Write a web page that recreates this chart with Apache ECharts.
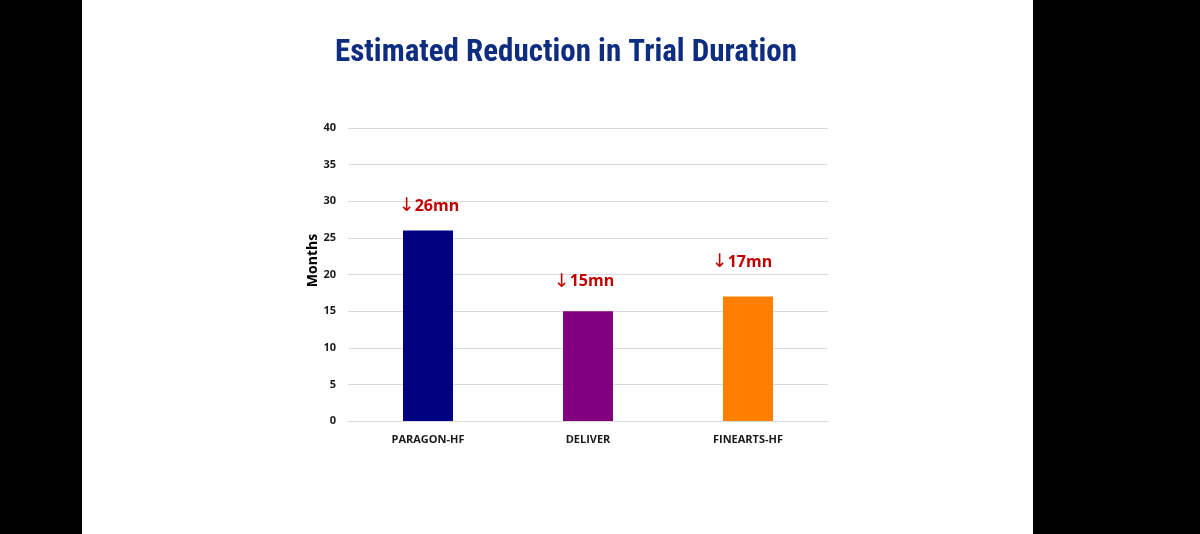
<!DOCTYPE html>
<html>
<head>
<meta charset="utf-8">
<script src="https://cdn.jsdelivr.net/npm/echarts@6/dist/echarts.min.js"></script>
<style>
  html, body { margin: 0; padding: 0; background: #000; }
  #chart {
    width: 1200px;
    height: 534px;
    background: linear-gradient(to right, #000 0, #000 82px, #fff 82px, #fff 1033px, #000 1033px);
  }
</style>
</head>
<body>
<div id="chart"></div>
<script>
// 数据
const trials = ['PARAGON-HF', 'DELIVER', 'FINEARTS-HF'];
const reductionMonths = [26, 15, 17];
const barColors = ['#000080', '#800080', '#ff8000'];
const yTicks = { min: 0, max: 40, interval: 5 };

// label placement above each bar (text boxes sit at slightly different heights)
const labelDistance = [15, 20, 25];
const labelShift = [1, -4, -6];

const chart = echarts.init(document.getElementById('chart'));

const barData = reductionMonths.map((v, i) => ({
  value: v,
  itemStyle: { color: barColors[i] },
  label: {
    distance: labelDistance[i],
    offset: [labelShift[i], 0]
  }
}));

chart.setOption({
  animation: false,
  title: {
    text: 'Estimated Reduction in Trial Duration',
    left: 561,
    top: 33,
    textAlign: 'center',
    textStyle: {
      fontFamily: '"Liberation Sans Narrow", "Roboto Condensed", Arial, sans-serif',
      fontSize: 31,
      fontWeight: 'bold',
      color: '#0f2d80'
    }
  },
  grid: {
    left: 348,
    right: 372,
    top: 128,
    bottom: 113,
    containLabel: false
  },
  xAxis: {
    type: 'category',
    data: trials,
    axisLine: { lineStyle: { color: '#d9d9d9', width: 1 } },
    axisTick: { show: false },
    axisLabel: {
      margin: 13,
      color: '#1a1a1a',
      fontSize: 11,
      fontWeight: 'bold',
      fontFamily: '"Open Sans", sans-serif'
    }
  },
  yAxis: {
    type: 'value',
    min: yTicks.min,
    max: yTicks.max,
    interval: yTicks.interval,
    name: 'Months',
    nameLocation: 'middle',
    nameGap: 28,
    nameRotate: 90,
    nameTextStyle: {
      color: '#000',
      fontSize: 14,
      fontWeight: 'bold',
      fontFamily: '"Open Sans", sans-serif',
      padding: [0, 0, 0, 28]
    },
    axisLine: { show: false },
    axisTick: { show: false },
    axisLabel: {
      margin: 12,
      color: '#1a1a1a',
      fontSize: 11,
      fontWeight: 'bold',
      fontFamily: '"Open Sans", sans-serif'
    },
    splitLine: { lineStyle: { color: '#d9d9d9', width: 1 } }
  },
  series: [{
    type: 'bar',
    data: barData,
    barWidth: 50,
    label: {
      show: true,
      position: 'top',
      formatter: p => '{a|\u2193}' + p.value + 'mn',
      color: '#c00000',
      fontSize: 16,
      fontWeight: 'bold',
      fontFamily: '"Open Sans", sans-serif',
      rich: {
        a: {
          fontFamily: '"DejaVu Sans", sans-serif',
          fontSize: 19,
          fontWeight: 'normal',
          color: '#c00000'
        }
      }
    }
  }]
});
</script>
</body>
</html>
